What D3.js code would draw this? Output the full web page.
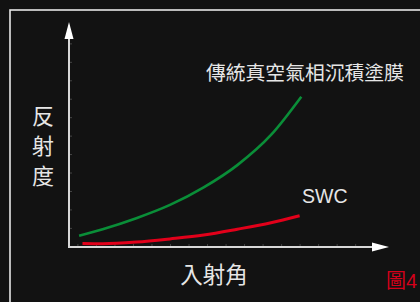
<!DOCTYPE html>
<html><head><meta charset="utf-8">
<script src="https://cdn.jsdelivr.net/npm/d3@7"></script>
<style>html,body{margin:0;padding:0;background:#121212;overflow:hidden}</style>
</head><body><svg id="c" width="420" height="302"></svg>
<script>
// Data (incident angle in degrees, reflectance in arbitrary %)
const greenAngles = [3, 10, 20, 30, 40, 50, 60, 69];
const greenValues = [5.0, 7.9, 12.8, 18.7, 26.5, 36.4, 49.8, 66.8];
const redAngles = [4, 10, 20, 30, 40, 50, 60, 68.5];
const redValues = [1.6, 1.5, 2.2, 3.6, 5.3, 7.9, 10.8, 13.9];
const seriesNames = ["傳統真空氣相沉積塗膜", "SWC"];
const xTitle = "入射角";
const yTitleChars = ["反", "射", "度"];
const figLabel = ["圖", "4"];

const svg = d3.select("#c");
svg.append("rect").attr("width", 420).attr("height", 302).attr("fill", "#121212");
// frame
svg.append("rect").attr("x", 10).attr("y", 10).attr("width", 440).attr("height", 320)
  .attr("fill", "none").attr("stroke", "#e6e6e6").attr("stroke-width", 1.6);

const x = d3.scaleLinear().domain([0, 90]).range([69, 372]);
const y = d3.scaleLinear().domain([0, 100]).range([247, 22]);

// faint grid ticks
const gx = svg.append("g").attr("transform", "translate(0,247)")
  .call(d3.axisTop(x).tickValues(d3.range(2.5, 90, 5.5)).tickSize(3).tickFormat(""));
gx.select(".domain").remove();
gx.selectAll("line").attr("stroke", "#444");
const gy = svg.append("g").attr("transform", "translate(69,0)")
  .call(d3.axisRight(y).tickValues(d3.range(8.5, 95, 8.2)).tickSize(3).tickFormat(""));
gy.select(".domain").remove();
gy.selectAll("line").attr("stroke", "#444");

// axes
svg.append("line").attr("x1", x(0)).attr("x2", x(0)).attr("y1", y(0)).attr("y2", 38)
  .attr("stroke", "#d8d8d8").attr("stroke-width", 2);
svg.append("path").attr("d", `M69,22 L64.5,39 L73.5,39 Z`).attr("fill", "#fff");
svg.append("line").attr("x1", x(0) - 1).attr("x2", 373).attr("y1", y(0)).attr("y2", y(0))
  .attr("stroke", "#d8d8d8").attr("stroke-width", 2);
svg.append("path").attr("d", `M389,247 L372,242.5 L372,251.5 Z`).attr("fill", "#fff");

const line = d3.line().x(d => x(d[0])).y(d => y(d[1])).curve(d3.curveMonotoneX);
svg.append("path").datum(greenAngles.map((a, i) => [a, greenValues[i]]))
  .attr("d", line).attr("fill", "none").attr("stroke", "#0a8e38").attr("stroke-width", 2.6)
  .attr("stroke-linecap", "butt");
svg.append("path").datum(redAngles.map((a, i) => [a, redValues[i]]))
  .attr("d", line).attr("fill", "none").attr("stroke", "#e2001a").attr("stroke-width", 3)
  .attr("stroke-linecap", "butt");

const cjk = "'Noto Sans CJK TC','Noto Sans CJK SC',sans-serif";
svg.append("text").attr("x", 206).attr("y", 80).attr("fill", "#e6e6e6")
  .attr("font-family", cjk).attr("font-size", 19.8).text(seriesNames[0]);
svg.append("text").attr("x", 302).attr("y", 203).attr("fill", "#e6e6e6")
  .attr("font-family", "'Liberation Sans',Arial,sans-serif").attr("font-size", 19.5).text(seriesNames[1]);

svg.selectAll("text.yt").data(yTitleChars).enter().append("text").attr("class", "yt")
  .attr("x", 43).attr("y", (d, i) => 124 + i * 30).attr("text-anchor", "middle")
  .attr("fill", "#e6e6e6").attr("font-family", cjk).attr("font-size", 22).text(d => d);

svg.append("text").attr("x", 214).attr("y", 283).attr("text-anchor", "middle")
  .attr("fill", "#e6e6e6").attr("font-family", cjk).attr("font-size", 22.5).text(xTitle);

const fl = svg.append("text").attr("x", 417).attr("y", 288).attr("text-anchor", "end")
  .attr("fill", "#d4001a").attr("font-size", 20);
fl.append("tspan").attr("font-family", cjk).text(figLabel[0]);
fl.append("tspan").attr("font-family", "'Liberation Sans',Arial,sans-serif").text(figLabel[1]);
</script></body></html>
